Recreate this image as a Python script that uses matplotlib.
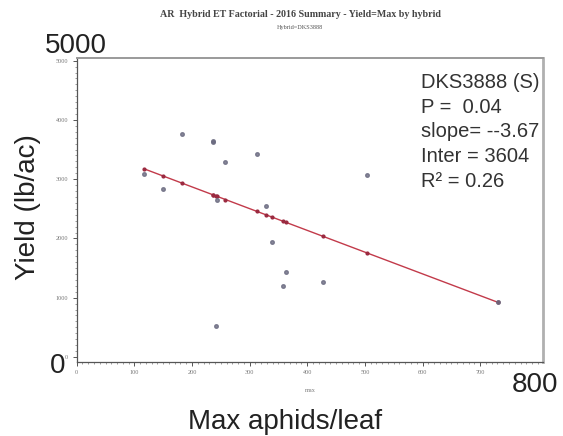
import matplotlib
matplotlib.use("Agg")
import matplotlib.pyplot as plt
import numpy as np
from matplotlib.ticker import MultipleLocator

# Données
max_aphids = [117, 149, 182, 237, 237, 241, 244, 258, 313, 329, 339, 358, 363, 428, 504, 731]
yield_lb = [3080, 2840, 3755, 3630, 3650, 525, 2650, 3295, 3420, 2545, 1945, 1200, 1430, 1260, 3065, 935]

# Régression affichée
intercept = 3604
slope = -3.67
stats_lines = ["DKS3888 (S)", "P =  0.04", "slope= --3.67", "Inter = 3604", "R\u00b2 = 0.26"]

W, H = 563, 436


def px(x, y):
    # pixels -> coordonnées figure
    return x / W, 1 - y / H


fig = plt.figure(figsize=(W / 100, H / 100), dpi=100)
ax = fig.add_axes([76.7 / W, 1 - 361.7 / H, (543 - 76.7) / W, (361.7 - 58) / H])

# Points observés
ax.plot(max_aphids, yield_lb, linestyle="none", marker="o", ms=2.6,
        color="#6a6a80", alpha=0.8, zorder=3)

# Droite de régression avec valeurs prédites
xs = np.array(sorted(max_aphids))
pred = intercept + slope * xs
ax.plot(xs, pred, color="#c23a4a", lw=1.0, marker="o", ms=2.0,
        markerfacecolor="#9a2a40", markeredgecolor="#9a2a40", zorder=2)

ax.set_xlim(0, 809)
ax.set_ylim(-80, 5045)
ax.xaxis.set_major_locator(MultipleLocator(100))
ax.xaxis.set_minor_locator(MultipleLocator(10))
ax.yaxis.set_major_locator(MultipleLocator(1000))
ax.yaxis.set_minor_locator(MultipleLocator(100))
ax.set_xticks(np.arange(0, 800, 100))
ax.tick_params(which="major", direction="out", length=3, width=0.7, color="#555555",
               labelsize=4.5, labelcolor="#777777", pad=3)
ax.tick_params(which="minor", direction="out", length=1.5, width=0.5, color="#777777")
for lab in ax.get_xticklabels() + ax.get_yticklabels():
    lab.set_family("Liberation Serif")

ax.spines["left"].set_color("#555555")
ax.spines["bottom"].set_color("#555555")
ax.spines["left"].set_linewidth(0.9)
ax.spines["bottom"].set_linewidth(0.9)
ax.spines["top"].set_color("#9a9a9a")
ax.spines["top"].set_linewidth(1.4)
ax.spines["right"].set_color("#b0b0b0")
ax.spines["right"].set_linewidth(2.0)

# Titres SAS
fig.text(*px(300, 17), "AR  Hybrid ET Factorial - 2016 Summary - Yield=Max by hybrid",
         ha="center", va="baseline", family="Liberation Serif", weight="bold",
         fontsize=7.2, color="#444444")
fig.text(*px(300, 29), "Hybrid=DKS3888", ha="center", va="baseline",
         family="Liberation Serif", fontsize=4.5, color="#555555")
fig.text(*px(310, 392), "max", ha="center", va="baseline",
         family="Liberation Serif", fontsize=4.5, color="#777777")

# Texte superposé (grands caractères)
big = dict(family="Liberation Sans", fontsize=20, color="#222222", va="baseline")
fig.text(*px(45, 53), "5000", ha="left", **big)
fig.text(*px(50, 373), "0", ha="left", **big)
fig.text(*px(511.7, 391.7), "800", ha="left", **big)
fig.text(*px(285, 429), "Max aphids/leaf", ha="center", **big)
fig.text(*px(28, 207), "Yield (lb/ac)", ha="center", va="center", rotation=90,
         family="Liberation Sans", fontsize=20, color="#222222")

# Statistiques
for i, line in enumerate(stats_lines):
    fig.text(*px(420.7, 88 + 24.7 * i), line, ha="left", va="baseline",
             family="Liberation Sans", fontsize=14.5, color="#333333")

fig.savefig("out.png", dpi=100)
